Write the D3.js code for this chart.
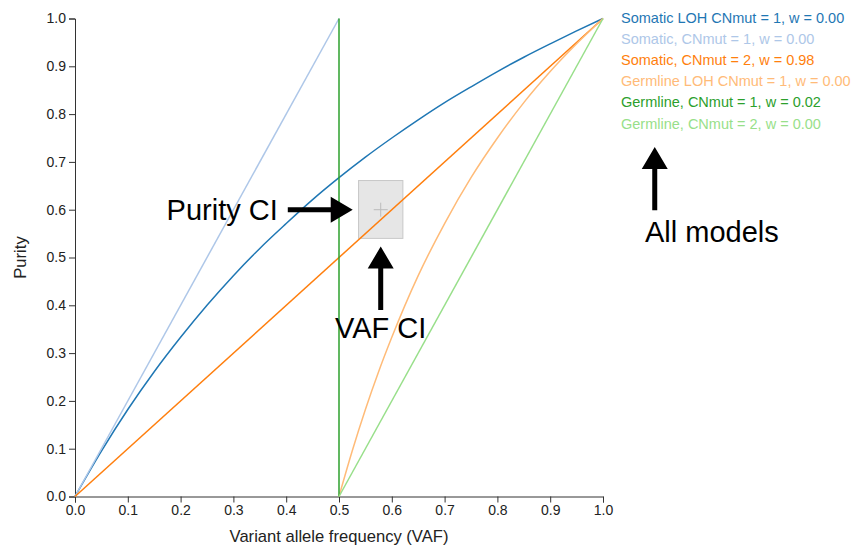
<!DOCTYPE html>
<html>
<head>
<meta charset="utf-8">
<script src="https://cdn.jsdelivr.net/npm/d3@7"></script>
<style>
  html, body { margin: 0; padding: 0; background: #fff; }
  svg { display: block; font-family: "Liberation Sans", Arial, Helvetica, sans-serif; }
</style>
</head>
<body>
<svg id="chart" width="852" height="550"></svg>
<script>
// ---- data ----
const xTicks = [0, 0.1, 0.2, 0.3, 0.4, 0.5, 0.6, 0.7, 0.8, 0.9, 1.0];
const yTicks = [0, 0.1, 0.2, 0.3, 0.4, 0.5, 0.6, 0.7, 0.8, 0.9, 1.0];

const somaticLohVaf    = [0, 0.05, 0.1, 0.15, 0.2, 0.25, 0.3, 0.35, 0.4, 0.45, 0.5, 0.55, 0.6, 0.65, 0.7, 0.75, 0.8, 0.85, 0.9, 0.95, 1.0];
const somaticLohPurity = [0, 0.095, 0.182, 0.261, 0.333, 0.4, 0.462, 0.519, 0.571, 0.621, 0.667, 0.71, 0.75, 0.788, 0.824, 0.857, 0.889, 0.919, 0.947, 0.974, 1.0];

const somaticVaf    = [0, 0.5];
const somaticPurity = [0, 1.0];

const somatic2Vaf    = [0, 1.0];
const somatic2Purity = [0, 1.0];

const germlineLohVaf    = [0.5, 0.525, 0.55, 0.575, 0.6, 0.65, 0.7, 0.75, 0.8, 0.85, 0.9, 0.95, 1.0];
const germlineLohPurity = [0, 0.095, 0.182, 0.261, 0.333, 0.462, 0.571, 0.667, 0.75, 0.824, 0.889, 0.947, 1.0];

const germlineVaf    = [0.5, 0.5];
const germlinePurity = [0, 1.0];

const germline2Vaf    = [0.5, 1.0];
const germline2Purity = [0, 1.0];

const seriesNames = [
  "Somatic LOH CNmut = 1, w = 0.00",
  "Somatic, CNmut = 1, w = 0.00",
  "Somatic, CNmut = 2, w = 0.98",
  "Germline LOH CNmut = 1, w = 0.00",
  "Germline, CNmut = 1, w = 0.02",
  "Germline, CNmut = 2, w = 0.00"
];
const seriesColors = ["#1f77b4", "#aec7e8", "#ff7f0e", "#ffbb78", "#2ca02c", "#98df8a"];

// confidence box: VAF CI and purity CI, with point estimate
const vafCI = [0.537, 0.621];
const purityCI = [0.540, 0.661];
const estimate = [0.579, 0.600];

// ---- layout ----
const margin = { left: 75, top: 18.5 };
const width = 528, height = 478;

const svg = d3.select("#chart");
const g = svg.append("g").attr("transform", `translate(${margin.left},${margin.top})`);

const x = d3.scaleLinear().domain([0, 1]).range([0, width]);
const y = d3.scaleLinear().domain([0, 1]).range([height, 0]);

// axes
const xAxis = g.append("g").attr("transform", `translate(0,${height})`)
  .call(d3.axisBottom(x).tickValues(xTicks).tickFormat(d3.format(".1f")));
const yAxis = g.append("g")
  .call(d3.axisLeft(y).tickValues(yTicks).tickFormat(d3.format(".1f")));
[xAxis, yAxis].forEach(a => {
  a.selectAll("text").attr("font-size", 14).attr("fill", "#222").attr("font-family", "Liberation Sans, Arial, sans-serif");
  a.selectAll("path,line").attr("stroke", "#333");
});

// axis titles
g.append("text")
  .attr("x", width / 2).attr("y", height + 45.5)
  .attr("text-anchor", "middle").attr("font-size", 16.6).attr("fill", "#222")
  .text("Variant allele frequency (VAF)");
g.append("text")
  .attr("transform", `translate(${26 - margin.left},${height / 2}) rotate(-90)`)
  .attr("text-anchor", "middle").attr("font-size", 16.6).attr("fill", "#222")
  .text("Purity");

// CI box
g.append("rect")
  .attr("x", x(vafCI[0])).attr("y", y(purityCI[1]))
  .attr("width", x(vafCI[1]) - x(vafCI[0]))
  .attr("height", y(purityCI[0]) - y(purityCI[1]))
  .attr("fill", "#e6e6e6").attr("stroke", "#c8c8c8").attr("stroke-width", 1);
const cx = x(estimate[0]), cy = y(estimate[1]);
g.append("path")
  .attr("d", `M${cx - 7},${cy}H${cx + 7}M${cx},${cy - 7}V${cy + 7}`)
  .attr("stroke", "#bbb").attr("stroke-width", 1).attr("fill", "none");

// lines
const series = [
  [somaticLohVaf, somaticLohPurity],
  [somaticVaf, somaticPurity],
  [somatic2Vaf, somatic2Purity],
  [germlineLohVaf, germlineLohPurity],
  [germlineVaf, germlinePurity],
  [germline2Vaf, germline2Purity]
];
const line = d3.line().x(d => x(d[0])).y(d => y(d[1])).curve(d3.curveMonotoneX);
const lineV = d3.line().x(d => x(d[0])).y(d => y(d[1]));
series.forEach((s, i) => {
  const pts = d3.zip(s[0], s[1]);
  const isVertical = s[0][0] === s[0][s[0].length - 1];
  g.append("path")
    .attr("d", (isVertical ? lineV : line)(pts))
    .attr("fill", "none").attr("stroke", seriesColors[i]).attr("stroke-width", 1.5);
});

// legend
const legend = svg.append("g").attr("transform", "translate(621,0)");
seriesNames.forEach((name, i) => {
  legend.append("text")
    .attr("x", 0).attr("y", 23 + i * 21.1)
    .attr("font-size", 14.5).attr("fill", seriesColors[i])
    .text(name);
});

// annotations (data coordinates)
function arrow(x0, y0, x1, y1) {
  const px0 = x(x0), py0 = y(y0), px1 = x(x1), py1 = y(y1);
  const dx = px1 - px0, dy = py1 - py0, len = Math.hypot(dx, dy);
  const ux = dx / len, uy = dy / len, nx = -uy, ny = ux;
  const headLen = 22, headHalf = 13, shaftHalf = 2.5;
  const bx = px1 - ux * headLen, by = py1 - uy * headLen;
  const pts = [
    [px0 + nx * shaftHalf, py0 + ny * shaftHalf],
    [bx + nx * shaftHalf, by + ny * shaftHalf],
    [bx + nx * headHalf, by + ny * headHalf],
    [px1, py1],
    [bx - nx * headHalf, by - ny * headHalf],
    [bx - nx * shaftHalf, by - ny * shaftHalf],
    [px0 - nx * shaftHalf, py0 - ny * shaftHalf]
  ];
  g.append("path").attr("d", "M" + pts.map(p => p.join(",")).join("L") + "Z").attr("fill", "#000");
}
function label(xv, yv, text, anchor) {
  g.append("text").attr("x", x(xv)).attr("y", y(yv))
    .attr("text-anchor", anchor).attr("font-size", 29).attr("fill", "#000").text(text);
}

label(0.384, 0.578, "Purity CI", "end");
arrow(0.403, 0.600, 0.526, 0.600);

label(0.579, 0.332, "VAF CI", "middle");
arrow(0.579, 0.390, 0.579, 0.523);

label(1.0795, 0.532, "All models", "start");
arrow(1.098, 0.599, 1.098, 0.731);
</script>
</body>
</html>
